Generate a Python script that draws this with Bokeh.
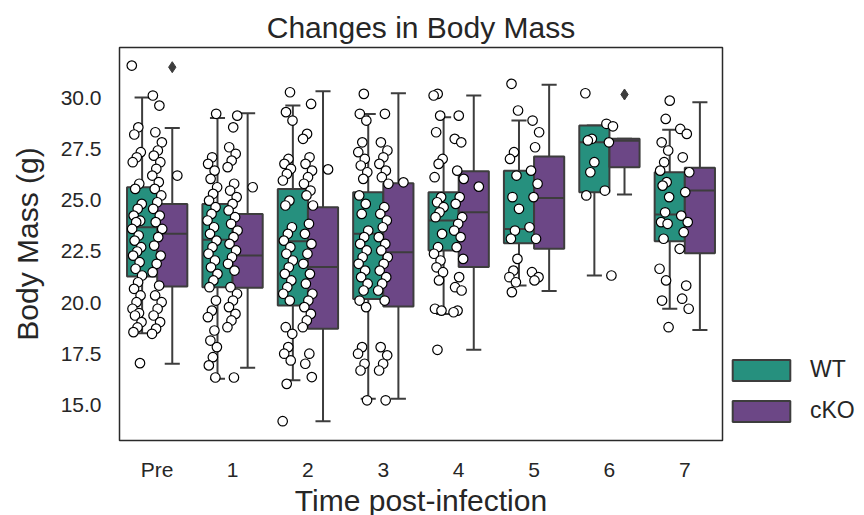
from bokeh.plotting import figure
from bokeh.models import FixedTicker, Legend, LegendItem, Range1d, NumeralTickFormatter
from bokeh.embed import file_html
from bokeh.resources import INLINE

# ---------------- data ----------------
categories = ["Pre", "1", "2", "3", "4", "5", "6", "7"]
hues = ["WT", "cKO"]

# box statistics
wt_hi = [30.00, 29.01, 29.61, 29.20, 29.04, 28.88, 28.64, 28.43]
wt_q3 = [25.63, 24.82, 25.55, 25.39, 25.39, 26.44, 28.64, 26.36]
wt_med = [23.68, 23.07, 23.00, 23.36, 24.01, 23.60, 27.82, 24.30]
wt_q1 = [21.28, 20.76, 19.87, 20.19, 22.55, 22.90, 25.39, 23.00]
wt_lo = [18.52, 16.30, 16.22, 15.32, 19.46, 20.84, 21.33, 19.71]

cko_hi = [28.52, 29.24, 30.31, 30.21, 30.10, 30.63, 27.99, 29.77]
cko_q3 = [24.82, 24.33, 24.66, 25.83, 26.41, 27.13, 27.99, 26.58]
cko_med = [23.36, 22.30, 21.74, 22.46, 24.41, 25.11, 27.90, 25.47]
cko_q1 = [20.79, 20.73, 18.73, 19.82, 21.74, 22.63, 26.60, 22.42]
cko_lo = [17.03, 16.83, 14.23, 15.32, 17.71, 20.57, 25.28, 18.68]

cko_outlier_cat = ["Pre", "6"]
cko_outlier_val = [31.48, 30.15]

# individual points (strip), three strip columns per time point
pre_left = [31.56, 28.55, 28.2, 27.34, 27.09, 26.85, 25.80, 25.55, 24.82, 24.58, 24.25, 24.0, 23.93, 23.60,
            23.28, 23.03, 22.71, 22.5, 22.30, 21.98, 21.66, 21.33, 21.00, 20.68, 20.36, 20.03, 19.71, 19.5,
            19.38, 19.06, 18.8, 18.57, 17.06]
pre_mid = [30.10, 29.61, 28.31, 27.82, 27.42, 27.17, 26.85, 26.53, 26.20, 25.88, 25.55, 25.23, 24.90, 24.58,
           24.25, 23.93, 23.60, 23.20, 22.79, 22.30, 21.90, 21.49, 20.84, 20.36, 20.03, 19.71, 19.38, 19.06,
           18.74, 18.49]
d1_left = [29.21, 27.09, 26.77, 26.44, 26.04, 25.63, 25.31, 24.98, 24.66, 24.33, 24.01, 23.68, 23.36, 23.03,
           22.71, 22.39, 22.06, 21.73, 21.41, 21.09, 20.76, 20.11, 19.62, 19.30, 18.65, 18.16, 17.84, 17.35,
           16.95, 16.36]
d1_mid = [29.12, 28.55, 27.58, 27.26, 26.93, 26.61, 25.80, 25.47, 25.15, 24.82, 24.50, 24.17, 23.85, 23.52,
          23.20, 22.87, 22.55, 22.22, 21.90, 21.57, 20.76, 20.44, 20.11, 19.79, 19.46, 19.14, 18.81, 16.36]
d2_left = [30.26, 29.29, 28.88, 27.01, 26.77, 26.53, 26.28, 25.96, 24.98, 24.74, 23.68, 23.36, 23.03, 22.71,
           22.39, 22.06, 21.73, 21.41, 21.09, 20.76, 20.44, 20.11, 18.81, 18.49, 17.84, 17.52, 17.19, 16.05,
           14.23]
d2_mid = [29.69, 28.23, 27.99, 27.09, 26.77, 26.44, 26.12, 25.80, 25.47, 25.23, 24.74, 23.85, 23.36, 22.87,
          22.39, 21.90, 21.41, 20.93, 20.44, 20.11, 19.79, 19.46, 19.14, 18.81, 17.52, 17.03, 16.38]
d3_left = [30.18, 29.21, 28.88, 27.82, 27.34, 27.01, 26.69, 26.36, 26.04, 25.23, 24.82, 24.33, 23.52, 23.20,
           22.87, 22.55, 22.22, 21.90, 21.57, 21.25, 20.93, 20.60, 20.11, 19.79, 17.84, 17.52, 17.03, 16.70,
           15.25]
d3_mid = [29.21, 27.82, 27.42, 27.09, 26.77, 26.44, 26.12, 25.80, 24.66, 24.33, 24.01, 23.68, 23.20, 22.87,
          22.55, 22.22, 21.90, 21.57, 21.25, 20.93, 20.60, 20.11, 17.84, 17.44, 17.03, 16.70, 15.25]
d4_left = [30.18, 30.10, 29.12, 28.31, 27.01, 26.77, 26.12, 25.15, 24.90, 24.66, 24.41, 24.17, 23.36, 22.71,
           22.39, 22.06, 21.73, 21.49, 21.09, 19.71, 19.62, 17.71]
d4_mid = [29.12, 27.99, 27.82, 26.44, 26.04, 25.15, 24.82, 24.17, 23.85, 23.52, 23.20, 22.71, 22.14, 21.25,
          20.76, 20.60, 19.62, 19.54]
d5_left = [30.67, 29.37, 27.34, 27.01, 26.20, 25.15, 24.58, 23.52, 23.12, 22.14, 21.57, 21.25, 21.00, 20.52]
d5_mid = [28.88, 28.31, 27.58, 26.44, 25.80, 25.15, 23.68, 23.12, 21.49, 21.25, 21.09]
d6_left = [30.21, 27.99, 27.91, 26.85, 26.36, 25.23]
d6_mid = [28.72, 28.60, 27.82, 25.47, 21.33]
d7_left = [29.85, 28.96, 27.82, 27.42, 26.85, 26.44, 25.88, 25.71, 25.15, 24.41, 23.93, 23.85, 23.12, 21.66,
           21.09, 20.11, 18.81]
d7_mid = [28.47, 28.23, 27.09, 26.36, 25.39, 24.25, 23.93, 23.44, 22.63, 20.84, 20.20, 19.71]

right_cat = ["Pre", "1", "2", "3", "4"]
right_val = [26.20, 25.63, 26.50, 25.87, 25.66]

left_cols = [pre_left, d1_left, d2_left, d3_left, d4_left, d5_left, d6_left, d7_left]
mid_cols = [pre_mid, d1_mid, d2_mid, d3_mid, d4_mid, d5_mid, d6_mid, d7_mid]

y_ticks = [15.0, 17.5, 20.0, 22.5, 25.0, 27.5, 30.0]

# ---------------- styling ----------------
FONT = "Liberation Sans"
TXT = "#262626"
EDGE = "#3d3d3d"
C_WT = "#26907e"
C_KO = "#6c4786"
BOXW = 0.4
CAPW = 0.2

p = figure(frame_width=603, frame_height=393, output_backend="svg", toolbar_location=None,
           x_range=Range1d(-0.5, 7.5), y_range=Range1d(13.29, 32.44),
           min_border_left=119, min_border_right=10, min_border_top=47, min_border_bottom=60)
p.title.text = "Changes in Body Mass"
p.title.align = "center"
p.title.text_font = FONT
p.title.text_font_size = "30px"
p.title.text_font_style = "normal"
p.title.text_color = TXT
p.title.offset = 0
p.title.standoff = 7
p.grid.visible = False
p.outline_line_color = "#2a2a2a"
p.outline_line_width = 1.5
p.background_fill_color = "white"
p.border_fill_color = "white"

for ax in (p.xaxis[0], p.yaxis[0]):
    ax.axis_line_color = None
    ax.major_tick_line_color = None
    ax.minor_tick_line_color = None
    ax.major_tick_out = 0
    ax.major_tick_in = 0
    ax.major_label_text_font = FONT
    ax.major_label_text_font_size = "21px"
    ax.major_label_text_color = TXT
    ax.axis_label_text_font = FONT
    ax.axis_label_text_font_size = "30px"
    ax.axis_label_text_font_style = "normal"
    ax.axis_label_text_color = TXT

p.xaxis.ticker = FixedTicker(ticks=list(range(len(categories))))
p.xaxis.major_label_overrides = {i: c for i, c in enumerate(categories)}
p.xaxis.axis_label = "Time post-infection"
p.xaxis.major_label_standoff = 17
p.xaxis.axis_label_standoff = 0
p.yaxis.ticker = FixedTicker(ticks=y_ticks)
p.yaxis.formatter = NumeralTickFormatter(format="0.0")
p.yaxis.axis_label = "Body Mass (g)"
p.yaxis.major_label_standoff = 18
p.yaxis.axis_label_standoff = 14

idx = {c: i for i, c in enumerate(categories)}


def draw_boxes(hi, q3, med, q1, lo, off, color):
    xs = [i + off for i in range(len(categories))]
    p.segment(x0=xs, y0=q3, x1=xs, y1=hi, line_color=EDGE, line_width=2)
    p.segment(x0=xs, y0=lo, x1=xs, y1=q1, line_color=EDGE, line_width=2)
    p.segment(x0=[x - CAPW / 2 for x in xs], y0=hi, x1=[x + CAPW / 2 for x in xs], y1=hi,
              line_color=EDGE, line_width=2)
    p.segment(x0=[x - CAPW / 2 for x in xs], y0=lo, x1=[x + CAPW / 2 for x in xs], y1=lo,
              line_color=EDGE, line_width=2)
    r = p.vbar(x=xs, width=BOXW, top=q3, bottom=q1, fill_color=color, line_color=EDGE, line_width=2)
    p.segment(x0=[x - BOXW / 2 for x in xs], y0=med, x1=[x + BOXW / 2 for x in xs], y1=med,
              line_color=EDGE, line_width=2)
    return r


r_wt = draw_boxes(wt_hi, wt_q3, wt_med, wt_q1, wt_lo, -0.2, C_WT)
r_ko = draw_boxes(cko_hi, cko_q3, cko_med, cko_q1, cko_lo, 0.2, C_KO)

p.scatter(x=[idx[c] + 0.2 for c in cko_outlier_cat], y=cko_outlier_val, marker="diamond", size=11,
          fill_color=EDGE, line_color=EDGE)

# strip points (deterministic jitter)
GOLD = 0.6180339887
JW = 0.14


def jit(k):
    return ((k * GOLD) % 1.0 - 0.5) * JW


px, py = [], []
for i, (lc, mc) in enumerate(zip(left_cols, mid_cols)):
    for k, v in enumerate(lc):
        px.append(i - 0.267 + jit(k + 3 * i))
        py.append(v)
    for k, v in enumerate(mc):
        px.append(i + jit(k + 5 + 3 * i))
        py.append(v)
for c, v in zip(right_cat, right_val):
    px.append(idx[c] + 0.267)
    py.append(v)

p.scatter(x=px, y=py, size=9.5, fill_color="white", line_color="black", line_width=1.2)

legend = Legend(items=[LegendItem(label=hues[0], renderers=[r_wt]),
                       LegendItem(label=hues[1], renderers=[r_ko])],
                location=(3, 16))
legend.margin = 0
legend.padding = 0
legend.border_line_color = None
legend.background_fill_alpha = 0
legend.glyph_width = 72
legend.glyph_height = 26
legend.label_height = 26
legend.label_standoff = 13
legend.spacing = 14
legend.label_text_font = FONT
legend.label_text_font_size = "23px"
legend.label_text_color = TXT
p.add_layout(legend, "right")

open("out.html", "w").write(file_html(p, INLINE))
